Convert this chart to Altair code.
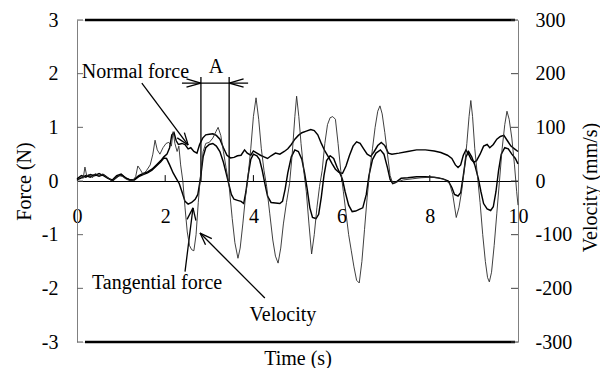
import math
import altair as alt
import pandas as pd

# ---------------- data ----------------
vel_t = [0.0, 0.08, 0.14, 0.18, 0.22, 0.28, 0.35, 0.42, 0.5, 0.58, 0.66, 0.74, 0.8, 0.88, 0.96,
         1.04, 1.12, 1.2, 1.27, 1.33, 1.38, 1.43, 1.5, 1.58, 1.66, 1.72, 1.77, 1.82, 1.88, 1.95,
         2.02, 2.08, 2.14, 2.18, 2.22, 2.27, 2.31, 2.35, 2.4, 2.45, 2.5, 2.55, 2.6, 2.65, 2.7,
         2.75, 2.8, 2.86, 2.92, 3.0, 3.08, 3.15, 3.2, 3.26, 3.32, 3.38, 3.45, 3.52, 3.58, 3.65,
         3.7, 3.76, 3.82, 3.88, 3.94, 4.0, 4.06, 4.12, 4.18, 4.24, 4.3, 4.37, 4.44, 4.5, 4.56,
         4.62, 4.68, 4.75, 4.82, 4.88, 4.94, 4.98, 5.03, 5.08, 5.14, 5.2, 5.26, 5.32, 5.38, 5.44,
         5.5, 5.56, 5.62, 5.68, 5.74, 5.8, 5.86, 5.92, 5.98, 6.04, 6.1, 6.16, 6.22, 6.28, 6.34,
         6.4, 6.46, 6.52, 6.58, 6.64, 6.7, 6.76, 6.82, 6.87, 6.92, 6.98, 7.04, 7.1, 7.16, 7.25,
         7.4, 7.6, 7.8, 8.0, 8.2, 8.35, 8.45, 8.52, 8.6, 8.66, 8.72, 8.78, 8.84, 8.89, 8.93,
         8.97, 9.02, 9.08, 9.14, 9.2, 9.26, 9.31, 9.35, 9.4, 9.46, 9.52, 9.58, 9.64, 9.7, 9.75,
         9.8, 9.86, 9.92, 9.97, 10.0]
vel_v = [0, 8, 5, 26, 10, 12, 6, 14, 9, 13, 8, 4, 0, 5, 10,
         8, 3, 1, 2, 8, 28, 22, 12, 20, 30, 50, 76, 58, 50, 62,
         70, 72, 65, 92, 70, 55, 65, 30, 0, -50, -95, -120, -128, -130, -100,
         -40, 10, 55, 70, 72, 80, 92, 100, 85, 55, 25, -10, -70, -115, -144,
         -125, -80, -30, 10, 60, 120, 155, 115, 60, 20, -10, -60, -110, -140, -153,
         -125, -80, -40, -5, 50, 120, 158, 120, 70, 20, -20, -80, -136, -100, -50,
         -10, 20, 70, 105, 118, 120, 115, 70, 20, -20, -60, -100, -130, -160, -185,
         -190, -150, -90, -30, 20, 60, 100, 130, 140, 125, 90, 50, 10, -4, -2,
         2, 4, 6, 7, 6, 2, -5, -25, -68, -50, -20, 20, 70, 120, 150,
         120, 60, 10, -40, -100, -150, -180, -188, -170, -120, -60, 0, 60, 105, 130,
         115, 80, 30, -20, -45]

tan_t = [0.0, 0.1, 0.2, 0.3, 0.4, 0.5, 0.6, 0.7, 0.8, 0.9, 1.0, 1.1, 1.2, 1.3, 1.4, 1.5, 1.6,
         1.7, 1.8, 1.9, 1.97, 2.03, 2.1, 2.18, 2.25, 2.32, 2.38, 2.45, 2.52, 2.6, 2.68, 2.74,
         2.8, 2.86, 2.92, 3.0, 3.08, 3.16, 3.24, 3.32, 3.38, 3.44, 3.5, 3.56, 3.64, 3.72, 3.78,
         3.83, 3.88, 3.94, 4.0, 4.08, 4.14, 4.2, 4.26, 4.32, 4.4, 4.5, 4.6, 4.66, 4.72, 4.78,
         4.86, 4.94, 5.02, 5.1, 5.16, 5.22, 5.28, 5.34, 5.42, 5.48, 5.54, 5.6, 5.66, 5.74, 5.82,
         5.9, 5.96, 6.02, 6.08, 6.16, 6.24, 6.32, 6.4, 6.48, 6.56, 6.62, 6.7, 6.78, 6.88, 6.96,
         7.04, 7.1, 7.16, 7.22, 7.35, 7.5, 7.7, 7.9, 8.1, 8.3, 8.42, 8.5, 8.56, 8.64, 8.7,
         8.76, 8.82, 8.88, 8.95, 9.02, 9.1, 9.16, 9.22, 9.3, 9.38, 9.44, 9.5, 9.56, 9.62, 9.7,
         9.78, 9.86, 9.94, 10.0]
tan_f = [0.02, 0.06, 0.1, 0.07, 0.12, 0.09, 0.12, 0.06, 0.0, 0.07, 0.12, 0.06, 0.02, 0.02, 0.08, 0.12, 0.15,
         0.2, 0.28, 0.36, 0.43, 0.42, 0.3, 0.15, 0.05, -0.05, -0.2, -0.38, -0.43, -0.4, -0.34, -0.25,
         0.05, 0.45, 0.62, 0.68, 0.7, 0.65, 0.55, 0.35, 0.15, -0.05, -0.25, -0.34, -0.36, -0.38, -0.42,
         -0.2, 0.1, 0.4, 0.5, 0.47, 0.4, 0.2, -0.05, -0.28, -0.4, -0.41, -0.42, -0.38, -0.15, 0.15,
         0.45, 0.58, 0.55, 0.4, 0.15, -0.15, -0.5, -0.68, -0.7, -0.62, -0.3, 0.1, 0.38, 0.47, 0.42,
         0.25, 0.15, 0.03, -0.2, -0.45, -0.57, -0.56, -0.53, -0.5, -0.25, 0.1, 0.4, 0.52, 0.58, 0.5,
         0.25, 0.03, -0.05, -0.03, 0.05, 0.06, 0.08, 0.08, 0.07, 0.04, 0.0, -0.12, -0.25, -0.28, -0.22,
         0.1, 0.45, 0.55, 0.45, 0.3, 0.05, -0.2, -0.42, -0.52, -0.55, -0.48, -0.2, 0.2, 0.5, 0.62,
         0.6, 0.5, 0.42, 0.32]

nor_t = [0.0, 0.1, 0.2, 0.3, 0.4, 0.5, 0.6, 0.7, 0.8, 0.9, 1.0, 1.1, 1.2, 1.3, 1.4, 1.5, 1.6,
         1.7, 1.8, 1.9, 1.97, 2.04, 2.1, 2.15, 2.2, 2.25, 2.3, 2.38, 2.45, 2.52, 2.58, 2.65,
         2.72, 2.78, 2.85, 2.92, 3.0, 3.08, 3.16, 3.24, 3.32, 3.4, 3.48, 3.56, 3.64, 3.72, 3.8,
         3.86, 3.94, 4.0, 4.08, 4.16, 4.24, 4.32, 4.4, 4.5, 4.6, 4.7, 4.78, 4.86, 4.94, 5.02,
         5.1, 5.2, 5.3, 5.38, 5.46, 5.54, 5.62, 5.7, 5.78, 5.86, 5.94, 6.02, 6.1, 6.18, 6.26,
         6.34, 6.42, 6.5, 6.58, 6.66, 6.74, 6.82, 6.9, 6.98, 7.06, 7.14, 7.3, 7.5, 7.7, 7.9,
         8.1, 8.25, 8.4, 8.5, 8.58, 8.64, 8.7, 8.76, 8.82, 8.88, 8.94, 9.0, 9.06, 9.14, 9.22,
         9.3, 9.36, 9.44, 9.52, 9.6, 9.68, 9.76, 9.84, 9.92, 10.0]
nor_f = [0.04, 0.1, 0.07, 0.12, 0.1, 0.14, 0.1, 0.05, 0.02, 0.1, 0.13, 0.06, 0.02, 0.03, 0.1, 0.14, 0.17,
         0.22, 0.3, 0.38, 0.45, 0.5, 0.62, 0.86, 0.9, 0.75, 0.68, 0.7, 0.68, 0.6, 0.62, 0.55,
         0.52, 0.68, 0.8, 0.86, 0.87, 0.88, 0.85, 0.78, 0.62, 0.48, 0.43, 0.44, 0.47, 0.48, 0.58,
         0.52, 0.48, 0.56, 0.52, 0.48, 0.45, 0.42, 0.47, 0.52, 0.5, 0.55, 0.6, 0.68, 0.78, 0.85,
         0.9, 0.93, 0.96, 0.94, 0.86, 0.7, 0.56, 0.45, 0.33, 0.22, 0.16, 0.14, 0.28, 0.48, 0.65,
         0.73, 0.7, 0.6, 0.5, 0.46, 0.55, 0.66, 0.72, 0.66, 0.52, 0.5, 0.52, 0.55, 0.58, 0.58,
         0.56, 0.53, 0.48, 0.42, 0.3, 0.25, 0.3, 0.48, 0.58, 0.5, 0.4, 0.35, 0.38, 0.5, 0.65,
         0.68, 0.62, 0.68, 0.78, 0.83, 0.85, 0.75, 0.65, 0.6, 0.55]

force_ticks = [-3, -2, -1, 0, 1, 2, 3]
vel_ticks = [-300, -200, -100, 0, 100, 200, 300]
time_ticks = [0, 2, 4, 6, 8, 10]

# annotation texts: (text, t, force, align)
notes = [("Normal force", 0.11, 2.03, "left"),
         ("Tangential force", 0.34, -1.9, "left"),
         ("A", 3.15, 2.12, "center"),
         ("Velocity", 4.67, -2.5, "center")]
# arrows: (t_start, f_start, t_tip, f_tip)
arrows = [(1.47, 1.825, 2.52, 0.67),
          (2.45, -1.69, 2.63, -0.50),
          (4.26, -2.18, 2.79, -0.97)]
dim_left, dim_right, dim_f, dim_top = 2.81, 3.45, 1.825, 1.94
dim_ext = (2.38, 3.88)

# ---------------- geometry / style ----------------
W, H = 441, 322
FONT = "Liberation Serif"
PX_T, PX_F = W / 10.0, H / 6.0

assert len(vel_t) == len(vel_v) and len(tan_t) == len(tan_f) and len(nor_t) == len(nor_f)


def head(t0, f0, t1, f1, length, ang):
    dx, dy = (t1 - t0) * PX_T, (f1 - f0) * PX_F
    L = math.hypot(dx, dy)
    ux, uy = -dx / L, -dy / L
    segs = []
    for s in (1, -1):
        a = math.radians(ang) * s
        bx = ux * math.cos(a) - uy * math.sin(a)
        by = ux * math.sin(a) + uy * math.cos(a)
        segs.append((t1, f1, t1 + bx * length / PX_T, f1 + by * length / PX_F))
    return segs


segs = []
for (a, b, c, d) in arrows:
    segs.append((a, b, c, d))
    segs += head(a, b, c, d, 13, 20)
segs.append((dim_ext[0], dim_f, dim_ext[1], dim_f))
segs += head(dim_ext[0], dim_f, dim_left, dim_f, 15, 16)
segs += head(dim_ext[1], dim_f, dim_right, dim_f, 15, 16)
segs.append((dim_left, 0, dim_left, dim_top))
segs.append((dim_right, 0, dim_right, dim_top))
seg_df = pd.DataFrame(segs, columns=["t", "f", "t2", "f2"])

force_df = pd.concat([
    pd.DataFrame({"t": nor_t, "f": nor_f, "s": "Normal force"}),
    pd.DataFrame({"t": tan_t, "f": tan_f, "s": "Tangential force"}),
])
vel_df = pd.DataFrame({"t": vel_t, "v": vel_v})
note_df = pd.DataFrame(notes, columns=["label", "t", "f", "align"])

x_scale = alt.Scale(domain=[0, 10], nice=False, zero=False)
f_scale = alt.Scale(domain=[-3, 3], nice=False, zero=False)
v_scale = alt.Scale(domain=[-300, 300], nice=False, zero=False)

x_axis = alt.Axis(values=time_ticks, ticks=False, grid=False, domainColor="black", domainWidth=1.2,
                  offset=-H / 2, labelFont=FONT, labelFontSize=20, labelColor="black", labelPadding=25,
                  labelFlush=False, labelOverlap=False, labelExpr="'' + datum.value",
                  title="Time (s)", titleFont=FONT, titleFontSize=20, titleFontWeight="normal",
                  titleColor="black", titleX=W / 2, titleY=183, titleBaseline="alphabetic",
                  titleAlign="center")
f_axis = alt.Axis(orient="left", values=force_ticks, ticks=False, grid=False, domainColor="#808080",
                  labelFont=FONT, labelFontSize=20, labelColor="black", labelPadding=19,
                  labelOverlap=False, labelExpr="'' + datum.value",
                  title="Force (N)", titleFont=FONT, titleFontSize=20, titleFontWeight="normal",
                  titleColor="black", titleAngle=270, titleX=-53, titleY=H / 2,
                  titleBaseline="middle", titleAlign="center")
v_axis = alt.Axis(orient="right", values=vel_ticks, ticks=False, grid=False, domainColor="#808080",
                  labelFont=FONT, labelFontSize=20, labelColor="black", labelPadding=17,
                  labelOverlap=False, labelExpr="'' + datum.value",
                  title="Velocity (mm/s)", titleFont=FONT, titleFontSize=20, titleFontWeight="normal",
                  titleColor="black", titleAngle=270, titleX=72, titleY=167,
                  titleBaseline="middle", titleAlign="center")

X = alt.X("t:Q", scale=x_scale, axis=x_axis)
Y = alt.Y("f:Q", scale=f_scale, axis=f_axis)

force_lines = alt.Chart(force_df).mark_line(color="black", strokeWidth=1.45).encode(
    x=X, y=Y, detail="s:N")

frame = alt.Chart(pd.DataFrame({"f": [3, -3]})).mark_rule(color="black", strokeWidth=2.5).encode(
    y=Y, x=alt.value(8), x2=alt.value(438))

lticks = alt.Chart(pd.DataFrame({"f": force_ticks})).mark_rule(color="#666666", strokeWidth=1).encode(
    y=Y, x=alt.value(0), x2=alt.value(6))
rticks = alt.Chart(pd.DataFrame({"f": force_ticks})).mark_rule(color="#444444", strokeWidth=1).encode(
    y=Y, x=alt.value(W - 7), x2=alt.value(W))
xticks = alt.Chart(pd.DataFrame({"t": time_ticks[1:-1], "f": [0] * 4, "f2": [0.11] * 4})).mark_rule(
    color="black", strokeWidth=1).encode(x=X, y=Y, y2="f2:Q")

seg_layer = alt.Chart(seg_df).mark_rule(color="black", strokeWidth=1.3).encode(
    x=X, y=Y, x2="t2:Q", y2="f2:Q")

txt_left = alt.Chart(note_df[note_df["align"] == "left"]).mark_text(
    font=FONT, fontSize=20, align="left", baseline="middle", color="black").encode(
    x=X, y=Y, text="label:N")
txt_center = alt.Chart(note_df[note_df["align"] == "center"]).mark_text(
    font=FONT, fontSize=20, align="center", baseline="middle", color="black").encode(
    x=X, y=Y, text="label:N")

force_group = alt.layer(force_lines, frame, lticks, rticks, xticks, seg_layer, txt_left, txt_center)

vel_line = alt.Chart(vel_df).mark_line(color="#2a2a2a", strokeWidth=0.9).encode(
    x=X, y=alt.Y("v:Q", scale=v_scale, axis=v_axis))

chart = alt.layer(force_group, vel_line).resolve_scale(y="independent").properties(
    width=W, height=H,
    autosize=alt.AutoSizeParams(type="none"),
    padding={"left": 69, "top": 12, "right": 82, "bottom": 26},
).configure_view(stroke=None).configure(background="white")

chart.save("out.html", embed_options={"renderer": "svg", "actions": False})
